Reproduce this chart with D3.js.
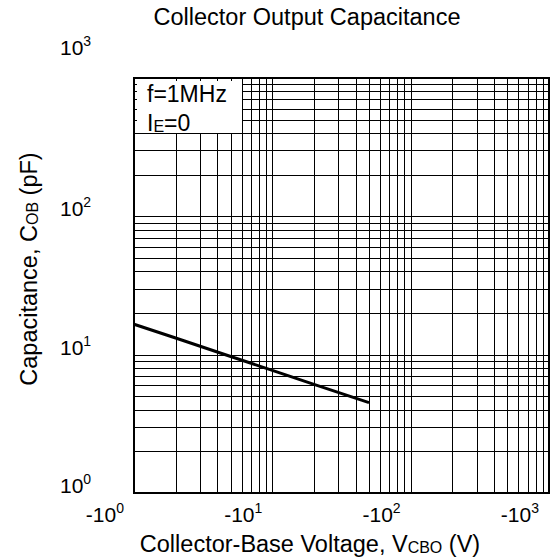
<!DOCTYPE html>
<html><head><meta charset="utf-8">
<script src="https://cdn.jsdelivr.net/npm/d3@7"></script>
<style>
html,body{margin:0;padding:0;background:#fff;}
svg{display:block;font-family:"Liberation Sans",Arial,sans-serif;}
</style></head>
<body>
<svg id="chart" width="553" height="557"></svg>
<script>
// ---- data ----
const voltage = [1, 2, 5, 10, 20, 50];            // |V_CBO| (V)
const capacitance = [16.6, 13.2, 9.7, 7.7, 6.1, 4.5]; // C_OB (pF)
const xTickExponents = [0, 1, 2, 3];
const yTickExponents = [0, 1, 2, 3];
const legendLines = [["f=1MHz", ""], ["I", "E", "=0"]];

const svg = d3.select("#chart");
const pL = 134, pR = 549, pT = 78, pB = 493;

const x = d3.scaleLog().domain([1, 1000]).range([pL, pR]);
const y = d3.scaleLog().domain([1, 1000]).range([pB, pT]);

// grid values (1..9 per decade)
const gridVals = [];
[1, 10, 100].forEach(d => { for (let k = 1; k <= 9; k++) gridVals.push(d * k); });
gridVals.push(1000);

const g = svg.append("g");
g.selectAll("line.vx").data(gridVals).join("line")
  .attr("x1", d => Math.round(x(d)) + 0.5).attr("x2", d => Math.round(x(d)) + 0.5)
  .attr("y1", pT).attr("y2", pB)
  .attr("stroke", "#000").attr("stroke-width", 1);
g.selectAll("line.hy").data(gridVals).join("line")
  .attr("y1", d => Math.round(y(d)) + 0.5).attr("y2", d => Math.round(y(d)) + 0.5)
  .attr("x1", pL).attr("x2", pR)
  .attr("stroke", "#000").attr("stroke-width", 1);

// legend box (white) covering grid in top-left
const boxRight = x(6), boxBottom = y(400);
g.append("rect").attr("x", pL + 3).attr("y", pT + 3)
  .attr("width", Math.round(boxRight) - pL - 3).attr("height", Math.round(boxBottom) - pT - 3)
  .attr("fill", "#fff");

// frame
g.append("rect").attr("x", pL).attr("y", pT).attr("width", pR - pL).attr("height", pB - pT)
  .attr("fill", "none").attr("stroke", "#000").attr("stroke-width", 2);

// curve
const line = d3.line().x((d, i) => x(voltage[i])).y(d => y(d));
g.append("path").datum(capacitance).attr("d", line)
  .attr("fill", "none").attr("stroke", "#000").attr("stroke-width", 3);

// legend text
svg.append("text").attr("x", 147).attr("y", 102).attr("font-size", 23).text(legendLines[0][0]);
const lt2 = svg.append("text").attr("x", 147).attr("y", 131).attr("font-size", 23);
lt2.append("tspan").text(legendLines[1][0]);
lt2.append("tspan").attr("font-size", 16).attr("dy", 1).text(legendLines[1][1]);
lt2.append("tspan").attr("dy", -1).text(legendLines[1][2]);

// x tick labels
xTickExponents.forEach(e => {
  const t = svg.append("text").attr("x", x(Math.pow(10, e)) - 10).attr("y", 522)
    .attr("text-anchor", "end").attr("font-size", 21);
  t.append("tspan").text("-10");
  t.append("tspan").attr("font-size", 14).attr("dy", -9).text(e);
});

// y tick labels
yTickExponents.forEach(e => {
  let yy = y(Math.pow(10, e));
  if (yy <= pT + 1) yy -= 23;
  const t = svg.append("text").attr("x", 60).attr("y", yy)
    .attr("text-anchor", "start").attr("font-size", 21);
  t.append("tspan").text("10");
  t.append("tspan").attr("font-size", 14).attr("dy", -9).text(e);
});

// title
svg.append("text").attr("x", 307).attr("y", 25).attr("text-anchor", "middle")
  .attr("font-size", 23.5).text("Collector Output Capacitance");

// x axis title
const xt = svg.append("text").attr("x", 310).attr("y", 552).attr("text-anchor", "middle").attr("font-size", 23.5);
xt.append("tspan").text("Collector-Base Voltage, V");
xt.append("tspan").attr("font-size", 16).attr("dy", 1).text("CBO");
xt.append("tspan").attr("dy", -1).text(" (V)");

// y axis title
const yt = svg.append("text").attr("transform", "translate(37,269) rotate(-90)")
  .attr("text-anchor", "middle").attr("font-size", 23.5);
yt.append("tspan").text("Capacitance, C");
yt.append("tspan").attr("font-size", 16).attr("dy", 1).text("OB");
yt.append("tspan").attr("dy", -1).text(" (pF)");
</script>
</body></html>
